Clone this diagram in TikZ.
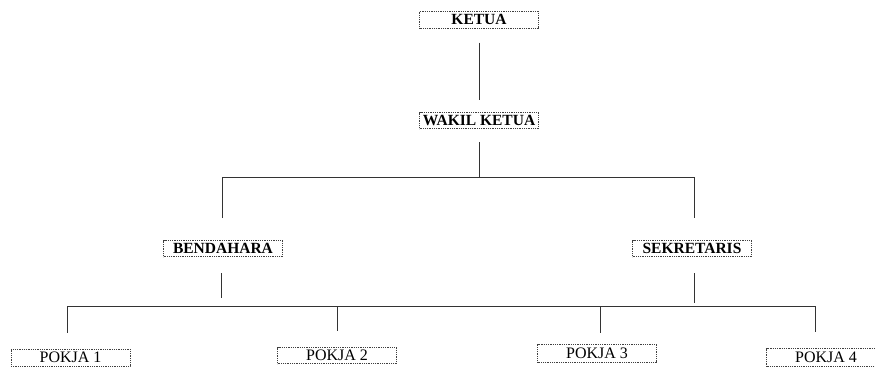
\documentclass[tikz,border=0pt]{standalone}
\usepackage{fontspec}
\setmainfont{Liberation Serif}
\begin{document}
\begin{tikzpicture}[x=1pt,y=-1pt,
  box/.style={draw=black!75, dash pattern=on 0.9pt off 0.9pt, line width=0.7pt, fill=white,
    inner sep=0pt, minimum width=119pt, minimum height=16pt, font=\fontsize{16}{16}\selectfont},
  bbox/.style={box, line width=1pt, font=\fontsize{15.5}{15.5}\selectfont\bfseries},
  conn/.style={draw=black!80, line width=0.9pt}]
\useasboundingbox (0,0) rectangle (875,367);
\node[bbox, minimum height=17pt] (ketua) at (479,19.5) {KETUA};
\node[bbox] (wakil) at (479,120.5) {WAKIL KETUA};
\node[bbox] (bend) at (223,248.5) {BENDAHARA};
\node[bbox] (sek) at (692,248.5) {SEKRETARIS};
\node[box, minimum height=17pt] (p1) at (70.5,357.5) {POKJA 1};
\node[box] (p2) at (337,355.5) {POKJA 2};
\node[box, minimum height=18pt] (p3) at (597,353) {POKJA 3};
\node[box, minimum height=18pt] (p4) at (826,357.5) {POKJA 4};
% junctions
\coordinate (j1) at (479,177);
\coordinate (jb) at (222,177);
\coordinate (js) at (694,177);
\coordinate (j2) at (221,306);
\coordinate (k1) at (67,306);
\coordinate (k2) at (337,306);
\coordinate (k3) at (600,306);
\coordinate (k4) at (815,306);
% connectors
\draw[conn, shorten <=14pt, shorten >=12pt] (ketua.south) -- (wakil.north);
\draw[conn] ([yshift=-13pt]wakil.south) -- (j1);
\draw[conn] ([yshift=22pt]bend.north -| jb) -- (jb) -- (js) -- ([yshift=22pt]sek.north -| js);
\draw[conn, shorten <=16pt, shorten >=8pt] (bend.south -| j2) -- (j2);
\draw[conn, shorten <=16pt, shorten >=3pt] (sek.south -| js) -- (js |- k4);
\draw[conn] (k1) -- (k4);
\draw[conn, shorten >=16pt] (k1) -- (k1 |- p1.north);
\draw[conn, shorten >=16pt] (k2) -- (k2 |- p2.north);
\draw[conn, shorten >=11pt] (k3) -- (k3 |- p3.north);
\draw[conn, shorten >=16pt] (k4) -- (k4 |- p4.north);
\end{tikzpicture}
\end{document}
